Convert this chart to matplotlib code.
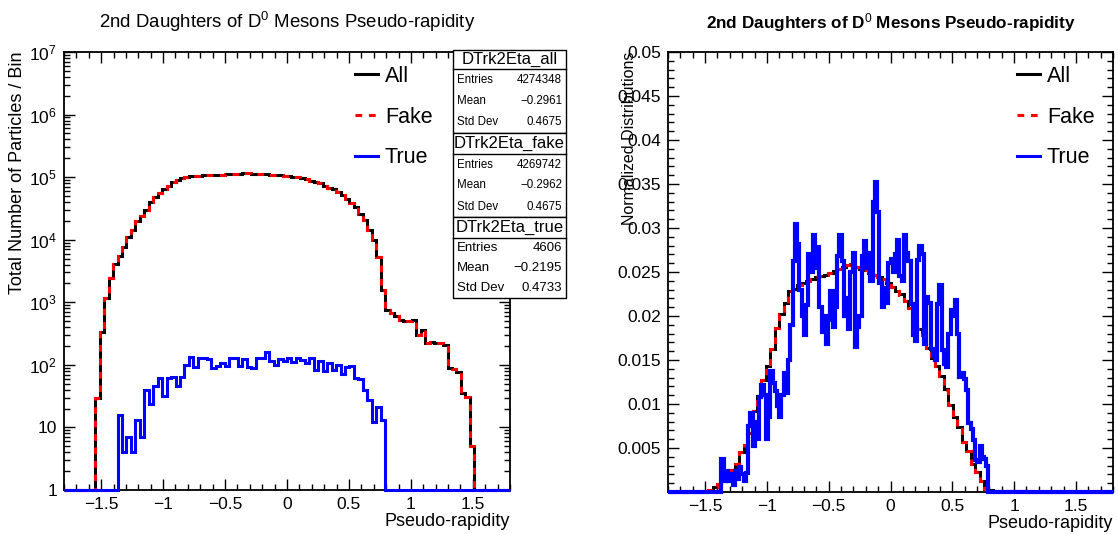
import numpy as np
import matplotlib
matplotlib.use("Agg")
import matplotlib.pyplot as plt
from matplotlib.patches import Rectangle
from matplotlib.lines import Line2D
from matplotlib.ticker import MultipleLocator, FixedLocator, LogLocator, FuncFormatter, NullFormatter

plt.rcParams['font.family'] = ['Liberation Sans', 'DejaVu Sans']
plt.rcParams['mathtext.fontset'] = 'custom'
plt.rcParams['mathtext.rm'] = 'Liberation Sans'
plt.rcParams['mathtext.it'] = 'Liberation Sans:italic'
plt.rcParams['mathtext.bf'] = 'Liberation Sans:bold'

# histogram ranges
eta_lo, eta_hi = -1.8, 1.8
n_coarse = 100
n_fine = 200

# counts per bin (100 bins)
all_counts = [0, 1, 1, 0, 0, 0, 0, 29, 339, 1160,
              2470, 4050, 5500, 7740, 10900, 14300, 20000, 23800, 29900, 40800,
              48800, 56500, 64000, 72500, 82800, 90000, 95800, 101700, 103000, 105000,
              106000, 107000, 108000, 109000, 109500, 110000, 111000, 112000, 113000, 114000,
              115000, 115500, 114000, 113000, 112500, 111000, 110000, 109000, 108000, 106000,
              104000, 102000, 100000, 96900, 93300, 87900, 82700, 79500, 73100, 67800,
              64000, 58700, 51900, 44300, 38200, 33000, 25500, 20700, 14300, 9900,
              5350, 1570, 760, 680, 600, 525, 510, 495, 530, 300,
              360, 221, 228, 226, 220, 210, 88, 85, 76, 35,
              31, 5, 0, 0, 0, 0, 0, 0, 0, 0]

fake_counts = [0, 1, 1, 0, 0, 0, 0, 29, 339, 1160,
               2470, 4050, 5484, 7736, 10893, 14296, 19987, 23793, 29860, 40776,
               48754, 56439, 63968, 72438, 82735, 89954, 95735, 101600, 102865, 104909,
               105873, 106873, 107875, 108912, 109404, 109894, 110904, 111873, 112869, 113904,
               114877, 115409, 113912, 112873, 112369, 110837, 109884, 108900, 107877, 105884,
               103873, 101889, 99873, 96780, 93194, 87773, 82616, 79384, 73021, 67694,
               63916, 58600, 51828, 44207, 38104, 32939, 25441, 20661, 14273, 9888,
               5329, 1557, 760, 680, 600, 525, 510, 495, 530, 300,
               360, 221, 228, 226, 220, 210, 88, 85, 76, 35,
               31, 5, 0, 0, 0, 0, 0, 0, 0, 0]

true_counts = [0] * 12 + [16, 4, 7, 4, 13, 7, 40, 24,
               46, 61, 32, 62, 65, 46, 65, 100, 135, 91,
               127, 127, 125, 88, 96, 106, 96, 127, 131, 96,
               123, 91, 88, 127, 131, 163, 116, 100, 123, 116,
               127, 111, 127, 120, 106, 127, 84, 116, 79, 106,
               84, 100, 72, 93, 96, 61, 59, 39, 27, 12,
               21, 13] + [0] * 28

# true daughters, normalized, finer binning (200 bins)
true_norm_fine = [0.0] * 24 + [
    0.0038, 0.0012, 0.0024, 0.0012, 0.0020, 0.0008, 0.0024, 0.0015, 0.0028, 0.0020,
    0.0012, 0.0022, 0.0075, 0.0090, 0.0052, 0.0080, 0.0060, 0.0108, 0.0122, 0.0110,
    0.0060, 0.0085, 0.0138, 0.0124, 0.0115, 0.0098, 0.0085, 0.0110, 0.0135, 0.0112,
    0.0150, 0.0190, 0.0262, 0.0305, 0.0282, 0.0230, 0.0200, 0.0178, 0.0212, 0.0270,
    0.0250, 0.0292, 0.0255, 0.0278, 0.0210, 0.0182, 0.0200, 0.0168, 0.0195, 0.0228,
    0.0188, 0.0210, 0.0268, 0.0292, 0.0262, 0.0200, 0.0220, 0.0185, 0.0250, 0.0272,
    0.0165, 0.0188, 0.0200, 0.0268, 0.0285, 0.0255, 0.0272, 0.0240, 0.0330, 0.0352,
    0.0318, 0.0238, 0.0210, 0.0232, 0.0215, 0.0260,
    0.0265, 0.0250, 0.0270, 0.0286, 0.0245, 0.0240, 0.0292, 0.0272, 0.0262, 0.0214,
    0.0178, 0.0172, 0.0264, 0.0280, 0.0270, 0.0168, 0.0222, 0.0215, 0.0163, 0.0154,
    0.0150, 0.0214, 0.0235, 0.0161, 0.0146, 0.0142, 0.0180, 0.0207, 0.0200, 0.0218,
    0.0180, 0.0131, 0.0135, 0.0128, 0.0116, 0.0078, 0.0072, 0.0059, 0.0036, 0.0034,
    0.0052, 0.0040, 0.0038, 0.0029] + [0.0] * 56

stats = [
    ("DTrk2Eta_all", "4274348", "\u22120.2961", "0.4675"),
    ("DTrk2Eta_fake", "4269742", "\u22120.2962", "0.4675"),
    ("DTrk2Eta_true", "4606", "\u22120.2195", "0.4733"),
]
labels = ["All", "Fake", "True"]
title = "2nd Daughters of D$^{0}$ Mesons Pseudo-rapidity"

W, H = 1118, 534
fig = plt.figure(figsize=(W / 100, H / 100), dpi=100)


def fx(px):
    return px / W


def fy(py):
    return 1 - py / H


def style_axes(ax):
    ax.set_xlim(eta_lo, eta_hi)
    ax.xaxis.set_major_locator(MultipleLocator(0.5))
    ax.xaxis.set_minor_locator(MultipleLocator(0.1))
    ax.xaxis.set_major_formatter(FuncFormatter(lambda v, p: ("%g" % v).replace("-", "\u2212")))
    ax.tick_params(which='both', direction='in', top=True, right=True, width=1.0)
    ax.tick_params(which='major', length=8, labelsize=12.5, pad=5)
    ax.tick_params(which='minor', length=4)
    for s in ax.spines.values():
        s.set_linewidth(1.3)
    ax.set_xlabel("Pseudo-rapidity", fontsize=13, loc='right', labelpad=1)


edges_c = np.linspace(eta_lo, eta_hi, n_coarse + 1)
edges_f = np.linspace(eta_lo, eta_hi, n_fine + 1)
lw = 2.2
dash = (0, (2.2, 2.2))

# ---------- left: counts, log scale
ax1 = fig.add_axes([fx(64), fy(490), fx(510 - 64), (490 - 52) / H])
style_axes(ax1)
ax1.set_yscale('log')
ax1.set_ylim(1, 1e7)
ymin = 1
ax1.stairs(np.clip(all_counts, ymin, None), edges_c, baseline=None, color='black', lw=lw, clip_on=False, zorder=3)
ax1.stairs(np.clip(fake_counts, ymin, None), edges_c, baseline=None, color='red', lw=lw, ls=dash, clip_on=False, zorder=3)
ax1.stairs(np.clip(true_counts, ymin, None), edges_c, baseline=None, color='blue', lw=lw, clip_on=False, zorder=3)
ax1.yaxis.set_major_locator(FixedLocator([10.0 ** k for k in range(8)]))
ax1.yaxis.set_major_formatter(FuncFormatter(
    lambda v, p: "1" if v < 5 else ("10" if v < 50 else "$10^{%d}$" % round(np.log10(v)))))
ax1.yaxis.set_minor_locator(LogLocator(base=10, subs=np.arange(2, 10), numticks=50))
ax1.yaxis.set_minor_formatter(NullFormatter())
ax1.set_ylabel("Total Number of Particles / Bin", fontsize=13, loc='top', labelpad=2)
ax1.set_title(title, fontsize=13.4, pad=17)

# ---------- right: normalized
ax2 = fig.add_axes([fx(668), fy(492), fx(1113 - 668), (492 - 52) / H])
style_axes(ax2)
ax2.set_ylim(0, 0.05)
ax2.yaxis.set_major_locator(MultipleLocator(0.005))
ax2.yaxis.set_minor_locator(MultipleLocator(0.001))
ax2.yaxis.set_major_formatter(FuncFormatter(lambda v, p: "" if abs(v) < 1e-9 else "%g" % v))
all_arr = np.array(all_counts, float)
fake_arr = np.array(fake_counts, float)
ax2.stairs(all_arr / all_arr.sum(), edges_c, baseline=None, color='black', lw=lw, clip_on=False, zorder=3)
ax2.stairs(fake_arr / fake_arr.sum(), edges_c, baseline=None, color='red', lw=lw, ls=dash, clip_on=False, zorder=3)
ax2.stairs(true_norm_fine, edges_f, baseline=None, color='blue', lw=3.0, clip_on=False, zorder=3)
ax2.set_ylabel("Normalized Distributions", fontsize=11.5, loc='top', labelpad=-14)
ax2.set_title(title, fontsize=12.3, fontweight='bold', pad=17)

# ---------- legends (no frame)
handles = [Line2D([], [], color='black', lw=lw),
           Line2D([], [], color='red', lw=lw, ls=dash),
           Line2D([], [], color='blue', lw=lw)]
for lx in (344, 1006):
    fig.legend(handles, labels, loc='upper left', bbox_to_anchor=(fx(lx), fy(55)),
               frameon=False, fontsize=15.5, handlelength=1.1, handletextpad=0.3,
               labelspacing=0.92, borderpad=0)

# ---------- stats boxes
box_x0, box_x1 = 453, 566
box_rows = [(50, 69, 133), (133, 154, 217), (217, 238, 298)]
for (name, n, mean, sd), (top, hdr, bot), small in zip(stats, box_rows, (8.3, 8.3, 9.5)):
    fig.add_artist(Rectangle((fx(box_x0), fy(bot)), fx(box_x1 - box_x0), (bot - top) / H,
                             transform=fig.transFigure, fill=True, facecolor='white',
                             edgecolor='black', lw=1.0, zorder=5))
    fig.add_artist(Line2D([fx(box_x0), fx(box_x1)], [fy(hdr), fy(hdr)],
                          transform=fig.transFigure, color='black', lw=1.0, zorder=6))
    fig.text(fx((box_x0 + box_x1) / 2), fy((top + hdr) / 2), name, ha='center', va='center',
             fontsize=12.0, zorder=7)
    row_h = (bot - hdr) / 3
    for i, (k, v) in enumerate([("Entries", n), ("Mean", mean), ("Std Dev", sd)]):
        yy = fy(hdr + row_h * (i + 0.5))
        fig.text(fx(box_x0 + 4), yy, k, ha='left', va='center', fontsize=small, zorder=7)
        fig.text(fx(box_x1 - 4), yy, v, ha='right', va='center', fontsize=small, zorder=7)

fig.savefig("out.png", dpi=100)
